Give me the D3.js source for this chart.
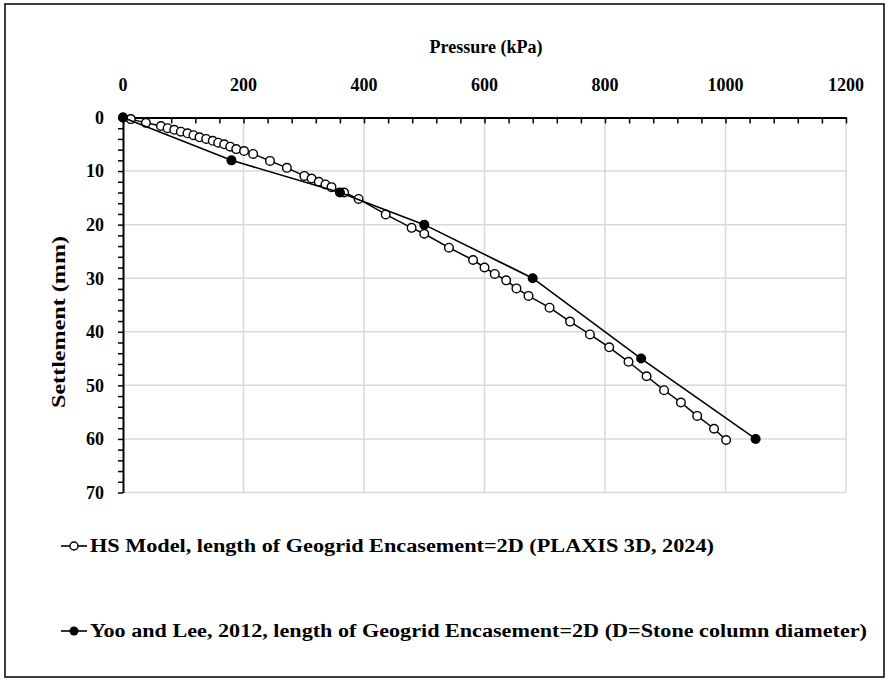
<!DOCTYPE html>
<html>
<head>
<meta charset="utf-8">
<script src="https://cdn.jsdelivr.net/npm/d3@7"></script>
<style>
  html, body { margin: 0; padding: 0; background: #fff; }
</style>
</head>
<body>
<svg id="chart" width="890" height="681"></svg>
<script>
// HS model (PLAXIS 3D) pressure–settlement points
const hsPressure = [0, 13, 38, 63, 74, 85, 96, 107, 117, 127, 138, 149, 158, 168, 178, 188, 201, 216, 244, 272,
  301, 313, 325, 336, 346, 367, 391, 436, 479, 500, 541, 581, 600, 617, 636, 653, 673, 708, 742, 775,
  807, 839, 869, 898, 926, 953, 981, 1001];
const hsSettlement = [0, 0.3, 1.0, 1.6, 2.0, 2.3, 2.65, 2.95, 3.3, 3.7, 4.0, 4.35, 4.7, 5.0, 5.45, 5.9, 6.25, 6.8, 8.1, 9.4,
  10.9, 11.4, 12.0, 12.5, 13.0, 14.0, 15.2, 18.1, 20.6, 21.7, 24.3, 26.6, 28.0, 29.2, 30.4, 31.9, 33.3, 35.5, 38.1, 40.5,
  42.9, 45.6, 48.3, 50.9, 53.2, 55.7, 58.1, 60.2];

// Yoo and Lee (2012) measured points
const yooPressure = [0, 180, 360, 500, 680, 860, 1050];
const yooSettlement = [0, 8, 14, 20, 30, 45, 60];

const xTickLabels = [0, 200, 400, 600, 800, 1000, 1200];
const yTickLabels = [0, 10, 20, 30, 40, 50, 60, 70];

const legendLabels = [
  "HS Model, length of Geogrid Encasement=2D (PLAXIS 3D, 2024)",
  "Yoo and Lee, 2012, length of Geogrid Encasement=2D (D=Stone column diameter)"
];

const FONT = "Liberation Serif";

const svg = d3.select("#chart");

// outer frame
svg.append("rect").attr("x", 5).attr("y", 4).attr("width", 879).attr("height", 673)
  .attr("fill", "none").attr("stroke", "#000").attr("stroke-width", 1.5);

const x = d3.scaleLinear().domain([0, 1200]).range([123, 846]);
const y = d3.scaleLinear().domain([0, 70]).range([117.5, 492.5]);

function label(sel) {
  return sel.attr("font-family", FONT).attr("font-weight", "bold").attr("fill", "#000");
}

// gridlines
const grid = svg.append("g").attr("stroke", "#d9d9d9").attr("stroke-width", 1.5);
grid.selectAll("line.v").data(xTickLabels.slice(1)).join("line")
  .attr("x1", d => x(d)).attr("x2", d => x(d)).attr("y1", y(0)).attr("y2", y(70));
grid.selectAll("line.h").data(yTickLabels.slice(1)).join("line")
  .attr("x1", x(0)).attr("x2", x(1200)).attr("y1", d => y(d)).attr("y2", d => y(d));

// x axis along the top, ticks pointing into the plot
const xAxis = d3.axisBottom(x).tickValues(d3.range(0, 1201, 40)).tickSize(6).tickSizeOuter(0).tickFormat("");
const gx = svg.append("g").attr("transform", `translate(0,${y(0)})`).call(xAxis);
gx.select(".domain").attr("stroke", "#000").attr("stroke-width", 2);
gx.selectAll(".tick line").attr("stroke", "#000").attr("stroke-width", 1.5);

svg.append("g").selectAll("text").data(xTickLabels).join("text")
  .call(label)
  .attr("x", d => x(d)).attr("y", 91).attr("text-anchor", "middle")
  .attr("font-size", 18).text(d => d);

// y axis, ticks outside
const yAxis = d3.axisLeft(y).tickValues(d3.range(0, 71, 2)).tickSize(5).tickSizeOuter(0).tickFormat("");
const gy = svg.append("g").attr("transform", `translate(${x(0)},0)`).call(yAxis);
gy.select(".domain").attr("stroke", "#000").attr("stroke-width", 2);
gy.selectAll(".tick line").attr("stroke", "#000").attr("stroke-width", 1.5);

svg.append("g").selectAll("text").data(yTickLabels).join("text")
  .call(label)
  .attr("x", 104).attr("y", d => y(d)).attr("dy", "0.35em").attr("text-anchor", "end")
  .attr("font-size", 18).text(d => d);

// axis titles
svg.append("text").call(label).attr("x", 486).attr("y", 53).attr("text-anchor", "middle")
  .attr("font-size", 18).text("Pressure (kPa)");
svg.append("text").call(label).attr("transform", "translate(65,322) rotate(-90)").attr("text-anchor", "middle")
  .attr("font-size", 18).attr("textLength", 172).attr("lengthAdjust", "spacingAndGlyphs")
  .text("Settlement (mm)");

const line = d3.line().x(d => x(d[0])).y(d => y(d[1]));
const hs = hsPressure.map((p, i) => [p, hsSettlement[i]]);
const yoo = yooPressure.map((p, i) => [p, yooSettlement[i]]);

// HS model series: line with open circles
svg.append("path").datum(hs).attr("d", line).attr("fill", "none")
  .attr("stroke", "#000").attr("stroke-width", 1.5);
svg.append("g").selectAll("circle").data(hs).join("circle")
  .attr("cx", d => x(d[0])).attr("cy", d => y(d[1])).attr("r", 4.3)
  .attr("fill", "#fff").attr("stroke", "#000").attr("stroke-width", 1.4);

// Yoo and Lee series: line with filled circles
svg.append("path").datum(yoo).attr("d", line).attr("fill", "none")
  .attr("stroke", "#000").attr("stroke-width", 1.6);
svg.append("g").selectAll("circle").data(yoo).join("circle")
  .attr("cx", d => x(d[0])).attr("cy", d => y(d[1])).attr("r", 5)
  .attr("fill", "#000");

// legend
const legendY = [546, 631];
const legendWidths = [624, 777];
const lg = svg.append("g");
legendLabels.forEach((text, i) => {
  const gy0 = legendY[i];
  lg.append("line").attr("x1", 61).attr("x2", 87).attr("y1", gy0).attr("y2", gy0)
    .attr("stroke", "#000").attr("stroke-width", 1.6);
  if (i === 0) {
    lg.append("circle").attr("cx", 74).attr("cy", gy0).attr("r", 4)
      .attr("fill", "#fff").attr("stroke", "#000").attr("stroke-width", 1.4);
  } else {
    lg.append("circle").attr("cx", 74).attr("cy", gy0).attr("r", 4.5).attr("fill", "#000");
  }
  lg.append("text").call(label).attr("x", 90).attr("y", gy0).attr("dy", "0.35em")
    .attr("font-size", 18).attr("textLength", legendWidths[i]).attr("lengthAdjust", "spacingAndGlyphs")
    .text(text);
});
</script>
</body>
</html>
